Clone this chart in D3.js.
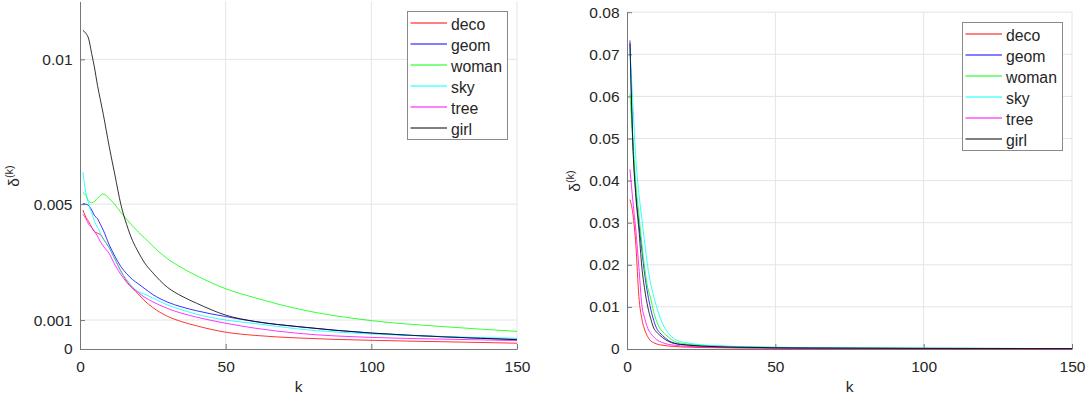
<!DOCTYPE html>
<html>
<head>
<meta charset="utf-8">
<script src="https://cdn.jsdelivr.net/npm/d3@7"></script>
<style>
  body { margin: 0; background: #fff; }
  text { font-family: "Liberation Sans", Arial, sans-serif; fill: #262626; }
</style>
</head>
<body>
<svg id="chart" width="1091" height="398"></svg>
<script>
const names = ["deco", "geom", "woman", "sky", "tree", "girl"];

// left panel, values
const kLeft = [1, 2, 3, 4, 5, 6, 7, 8, 10, 12, 14, 16, 18, 20, 22, 25, 30, 35, 40, 50, 60, 75, 100, 125, 150];
const decoLeft = [0.0048, 0.00455, 0.0044, 0.0042, 0.00405, 0.004, 0.00395, 0.0038, 0.0035, 0.0031, 0.0027, 0.00235, 0.0021, 0.0019, 0.00168, 0.00143, 0.00113, 0.00094, 0.0008, 0.00058, 0.00047, 0.00038, 0.0003, 0.00025, 0.0002];
const geomLeft = [0.00502, 0.005, 0.00495, 0.0048, 0.0046, 0.0045, 0.0043, 0.0041, 0.0036, 0.0032, 0.00285, 0.0026, 0.0024, 0.00225, 0.0021, 0.00188, 0.00162, 0.00145, 0.00132, 0.00112, 0.00095, 0.00077, 0.00055, 0.00042, 0.00032];
const womanLeft = [0.0054, 0.0053, 0.0051, 0.00505, 0.0051, 0.0052, 0.0053, 0.00535, 0.0052, 0.00498, 0.00472, 0.00448, 0.00425, 0.00404, 0.00385, 0.00355, 0.00312, 0.0028, 0.00253, 0.00208, 0.00177, 0.00138, 0.00098, 0.00077, 0.00061];
const skyLeft = [0.0061, 0.0054, 0.005, 0.0047, 0.0044, 0.0042, 0.004, 0.0038, 0.0035, 0.0031, 0.00267, 0.0024, 0.00215, 0.00198, 0.0019, 0.00176, 0.00152, 0.00135, 0.0012, 0.001, 0.00088, 0.00069, 0.00052, 0.00043, 0.00037];
const treeLeft = [0.00465, 0.0045, 0.0043, 0.0042, 0.00405, 0.0039, 0.0037, 0.00355, 0.0033, 0.0029, 0.00258, 0.0023, 0.00211, 0.00195, 0.0018, 0.00163, 0.0014, 0.00123, 0.0011, 0.00089, 0.00072, 0.00054, 0.0004, 0.00034, 0.00029];
const girlLeft = [0.011, 0.0109, 0.0107, 0.0102, 0.0097, 0.0091, 0.0086, 0.0081, 0.007, 0.006, 0.005, 0.0043, 0.00375, 0.00335, 0.003, 0.00263, 0.00213, 0.00182, 0.00158, 0.00117, 0.00095, 0.00077, 0.00055, 0.00042, 0.00033];

// right panel
const kRight = [1, 2, 3, 4, 5, 6, 7, 8, 9, 10, 11, 12, 14, 16, 18, 20, 25, 30, 40, 50, 75, 100, 150];
const decoRight = [0.0355, 0.032, 0.0245, 0.0125, 0.0072, 0.0045, 0.0029, 0.0019, 0.0015, 0.0012, 0.001, 0.0009, 0.0007, 0.0006, 0.0005, 0.00045, 0.00035, 0.0003, 0.00022, 0.00018, 0.00012, 0.0001, 0.00007];
const geomRight = [0.0733, 0.049, 0.037, 0.03, 0.0235, 0.0175, 0.013, 0.0095, 0.0068, 0.0049, 0.0039, 0.0032, 0.002, 0.0014, 0.0011, 0.001, 0.0007, 0.00055, 0.0004, 0.0003, 0.0002, 0.00015, 0.0001];
const womanRight = [0.0607, 0.049, 0.039, 0.032, 0.025, 0.019, 0.0145, 0.012, 0.0088, 0.0066, 0.005, 0.0041, 0.0028, 0.0018, 0.0014, 0.0012, 0.0009, 0.0007, 0.0005, 0.0004, 0.00025, 0.00017, 0.0001];
const skyRight = [0.071, 0.058, 0.045, 0.037, 0.031, 0.025, 0.0195, 0.0155, 0.0125, 0.01, 0.0078, 0.006, 0.0037, 0.0024, 0.0018, 0.0015, 0.001, 0.0008, 0.00055, 0.0004, 0.00025, 0.00018, 0.0001];
const treeRight = [0.0427, 0.035, 0.028, 0.0195, 0.0105, 0.0072, 0.0049, 0.0037, 0.0029, 0.0022, 0.0018, 0.0015, 0.0011, 0.0009, 0.00075, 0.00065, 0.0005, 0.0004, 0.0003, 0.00022, 0.00015, 0.0001, 0.00007];
const girlRight = [0.0726, 0.048, 0.036, 0.0285, 0.0195, 0.014, 0.01, 0.0072, 0.005, 0.004, 0.0033, 0.0027, 0.0018, 0.0013, 0.0011, 0.00095, 0.0007, 0.00055, 0.0004, 0.0003, 0.0002, 0.00014, 0.0001];

const xTicks = [0, 50, 100, 150];
const yTicksLeft = [0, 0.001, 0.005, 0.01];
const yTicksRight = [0, 0.01, 0.02, 0.03, 0.04, 0.05, 0.06, 0.07, 0.08];

const colors = ["#ff0000", "#0000ff", "#00ff00", "#00ffff", "#ff00ff", "#000000"];
const axisColor = "#777";
const gridColor = "#e4e4e4";

let svg = d3.select("#chart");

let drawPanel = (p) => {
  let x = d3.scaleLinear().domain([0, 150]).range([p.left, p.right]);
  let y = d3.scaleLinear().domain([0, p.ymax]).range([p.bottom, p.top]);
  let g = svg.append("g");

  // grid
  g.selectAll(".gx")
    .data(xTicks.filter((t) => t > 0))
    .enter()
    .append("line")
    .attr("x1", (t) => x(t))
    .attr("x2", (t) => x(t))
    .attr("y1", p.top)
    .attr("y2", p.bottom)
    .attr("stroke", gridColor);
  g.selectAll(".gy")
    .data(p.yTicks.filter((t) => t > 0))
    .enter()
    .append("line")
    .attr("x1", p.left)
    .attr("x2", p.right)
    .attr("y1", (t) => y(t))
    .attr("y2", (t) => y(t))
    .attr("stroke", gridColor);

  // axes, ticks pointing inward like matlab
  let fmt = (d) => (d === 0 ? "0" : String(d));
  let yAxis = g
    .append("g")
    .attr("transform", "translate(" + p.left + ",0)")
    .call(d3.axisLeft(y).tickValues(p.yTicks).tickFormat(fmt).tickSizeInner(-5).tickSizeOuter(0).tickPadding(7.5));
  let xAxis = g
    .append("g")
    .attr("transform", "translate(0," + p.bottom + ")")
    .call(d3.axisBottom(x).tickValues(xTicks).tickFormat(fmt).tickSizeInner(-5).tickSizeOuter(0).tickPadding(12));
  [xAxis, yAxis].forEach((a) => {
    a.selectAll("path, line").attr("stroke", axisColor);
    a.selectAll("text").attr("font-size", 15.5).attr("fill", "#262626").style("font-family", '"Liberation Sans", Arial, sans-serif');
  });

  // data lines
  let line = d3
    .line()
    .x((d) => x(d[0]))
    .y((d) => y(d[1]))
    .curve(d3.curveMonotoneX);
  p.series.forEach((vals, i) => {
    g.append("path")
      .datum(p.k.map((k, j) => [k, vals[j]]))
      .attr("fill", "none")
      .attr("stroke", colors[i])
      .attr("stroke-width", 0.8)
      .attr("d", line);
  });

  // axis labels
  g.append("text")
    .attr("x", (p.left + p.right) / 2)
    .attr("y", 392)
    .attr("text-anchor", "middle")
    .attr("font-size", 15.5)
    .text("k");
  let yl = g
    .append("text")
    .attr("transform", "translate(" + p.ylabX + "," + p.ylabY + ") rotate(-90)")
    .attr("text-anchor", "middle")
    .attr("font-size", 15.5);
  yl.append("tspan").text("δ");
  yl.append("tspan").attr("font-size", 11).attr("dy", -6).text("(k)");

  // legend
  let lx = Math.round(p.right - 110);
  let ly = Math.round(p.top + 10);
  let leg = g.append("g").attr("transform", "translate(" + lx + "," + ly + ")");
  leg.append("rect")
    .attr("x", 0.5)
    .attr("y", 0.5)
    .attr("width", 100)
    .attr("height", 128)
    .attr("fill", "#fff")
    .attr("stroke", "#8a8a8a");
  names.forEach((n, i) => {
    let yy = Math.round(12 + i * 21);
    leg.append("line")
      .attr("x1", 3.5)
      .attr("x2", 40)
      .attr("y1", yy)
      .attr("y2", yy)
      .attr("stroke", colors[i])
      .attr("stroke-width", 1);
    leg.append("text")
      .attr("x", 44)
      .attr("y", yy + 7)
      .attr("font-size", 15.8)
      .text(n);
  });
};

drawPanel({
  left: 80, right: 517, top: 1.4, bottom: 349, ymax: 0.012,
  yTicks: yTicksLeft, k: kLeft,
  series: [decoLeft, geomLeft, womanLeft, skyLeft, treeLeft, girlLeft],
  ylabX: 19, ylabY: 176
});

drawPanel({
  left: 627, right: 1072, top: 12.2, bottom: 349, ymax: 0.08,
  yTicks: yTicksRight, k: kRight,
  series: [decoRight, geomRight, womanRight, skyRight, treeRight, girlRight],
  ylabX: 580, ylabY: 181
});
</script>
</body>
</html>
